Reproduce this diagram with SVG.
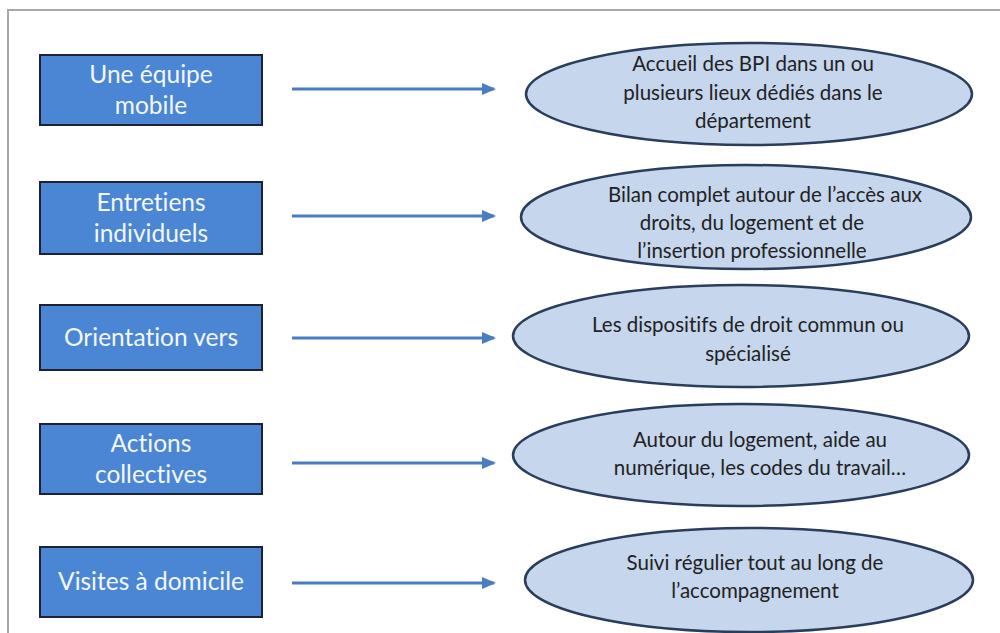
<svg xmlns="http://www.w3.org/2000/svg" width="1000" height="633" viewBox="0 0 1000 633">
<defs>
<marker id="ah" markerWidth="14" markerHeight="12" refX="12" refY="6" orient="auto" markerUnits="userSpaceOnUse">
<path d="M0,0 L14,6 L0,12 Z" fill="#4a7cc4"/>
</marker>
<style>
text{font-variant-ligatures:none;font-feature-settings:"liga" 0}
.box{fill:#4a86d4;stroke:#1c2233;stroke-width:2}
.bt{font-family:Lato,"Open Sans","Liberation Sans",sans-serif;font-size:24.5px;fill:#f4f7fc;text-anchor:middle}
.el{fill:#c6d6ec;stroke:#2a3d5c;stroke-width:2.5}
.et{font-family:Lato,"Open Sans","Liberation Sans",sans-serif;font-size:20.5px;fill:#222;text-anchor:middle}
.cn{stroke:#4a7cc4;stroke-width:3;fill:none;marker-end:url(#ah)}
</style>
</defs>
<rect width="1000" height="633" fill="#fff"/>
<path d="M1004,10 H8 V640" fill="none" stroke="#a8a8a8" stroke-width="2"/>
<g id="connectors">
<line class="cn" x1="292" y1="89" x2="494" y2="89"/>
<line class="cn" x1="292" y1="216" x2="494" y2="216"/>
<line class="cn" x1="292" y1="338" x2="494" y2="338"/>
<line class="cn" x1="292" y1="463" x2="494" y2="463"/>
<line class="cn" x1="292" y1="583" x2="494" y2="583"/>
</g>
<g id="box1"><rect class="box" x="40" y="55" width="222" height="70"/><text class="bt" x="151" y="83">Une équipe</text><text class="bt" x="151" y="114">mobile</text></g>
<g id="box2"><rect class="box" x="40" y="182" width="222" height="72"/><text class="bt" x="151" y="211">Entretiens</text><text class="bt" x="151" y="242">individuels</text></g>
<g id="box3"><rect class="box" x="40" y="305" width="222" height="65"/><text class="bt" x="151" y="346">Orientation vers</text></g>
<g id="box4"><rect class="box" x="40" y="424" width="222" height="70"/><text class="bt" x="151" y="452">Actions</text><text class="bt" x="151" y="483">collectives</text></g>
<g id="box5"><rect class="box" x="40" y="547" width="222" height="70"/><text class="bt" x="151" y="590">Visites à domicile</text></g>
<g id="ell1"><ellipse class="el" cx="749" cy="94" rx="223" ry="51"/><text class="et" x="753" y="71">Accueil des BPI dans un ou</text><text class="et" x="753" y="100">plusieurs lieux dédiés dans le</text><text class="et" x="753" y="128">département</text></g>
<g id="ell2"><ellipse class="el" cx="746" cy="217" rx="225" ry="52"/><text class="et" x="765" y="202">Bilan complet autour de l’accès aux</text><text class="et" x="752" y="230">droits, du logement et de</text><text class="et" x="752" y="258">l’insertion professionnelle</text></g>
<g id="ell3"><ellipse class="el" cx="741" cy="336" rx="228" ry="51"/><text class="et" x="748" y="332">Les dispositifs de droit commun ou</text><text class="et" x="748" y="361">spécialisé</text></g>
<g id="ell4"><ellipse class="el" cx="741" cy="455" rx="228" ry="51"/><text class="et" x="760" y="447">Autour du logement, aide au</text><text class="et" x="760" y="475">numérique, les codes du travail…</text></g>
<g id="ell5"><ellipse class="el" cx="749" cy="580" rx="224" ry="52"/><text class="et" x="755" y="570">Suivi régulier tout au long de</text><text class="et" x="755" y="598">l’accompagnement</text></g>
</svg>
